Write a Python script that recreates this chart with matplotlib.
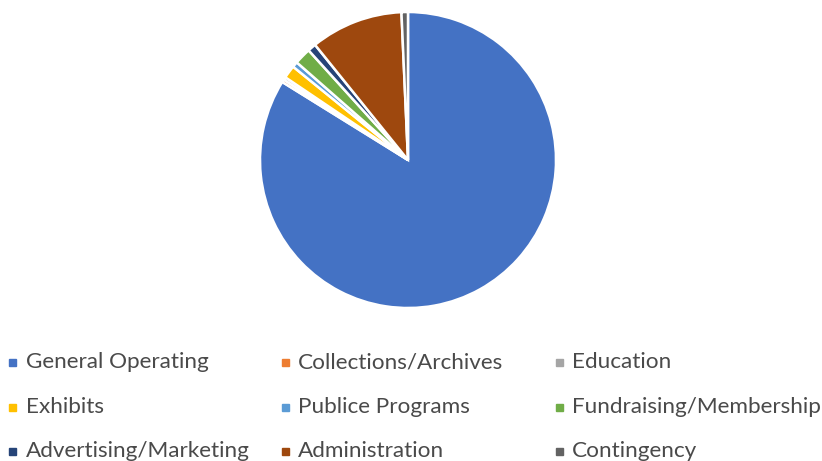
import matplotlib
matplotlib.use("Agg")
import matplotlib.pyplot as plt
from matplotlib.patches import Rectangle

# budget categories and their shares (%)
categories = ["General Operating", "Collections/Archives", "Education",
              "Exhibits", "Publice Programs", "Fundraising/Membership",
              "Advertising/Marketing", "Administration", "Contingency"]
shares = [83.0, 0.3, 0.3, 1.4, 0.6, 1.8, 0.9, 10.0, 0.7]
colors = ["#4472C4", "#ED7D31", "#A5A5A5", "#FFC000", "#5B9BD5",
          "#70AD47", "#264478", "#9E480E", "#636363"]

W, H = 822, 461
fig = plt.figure(figsize=(W / 100, H / 100), dpi=100)
fig.patch.set_facecolor("white")

# pie: centre (408, 160) px, radius 148 px
cx, cy, r = 408, 160, 148
ax = fig.add_axes([(cx - r) / W, (H - cy - r) / H, 2 * r / W, 2 * r / H])
ax.pie(shares, colors=colors, startangle=90, counterclock=False,
       wedgeprops=dict(edgecolor="white", linewidth=1.8))
ax.set_xlim(-1, 1)
ax.set_ylim(-1, 1)
ax.set_aspect("equal")
ax.axis("off")

# legend laid out row by row, 3 columns
col_x = [12.5, 285, 559]
row_y = [362, 407, 451]
for i, name in enumerate(categories):
    x = col_x[i % 3]
    y = row_y[i // 3]
    fig.patches.append(Rectangle(((x - 3.5) / W, (H - y - 3.5) / H), 7 / W, 7 / H,
                                 transform=fig.transFigure, color=colors[i]))
    fig.text((x + 13) / W, (H - y) / H, name, fontsize=16.2, family="Lato",
             color="#4a4a4a", va="center", ha="left")

fig.savefig("out.png", dpi=100)
